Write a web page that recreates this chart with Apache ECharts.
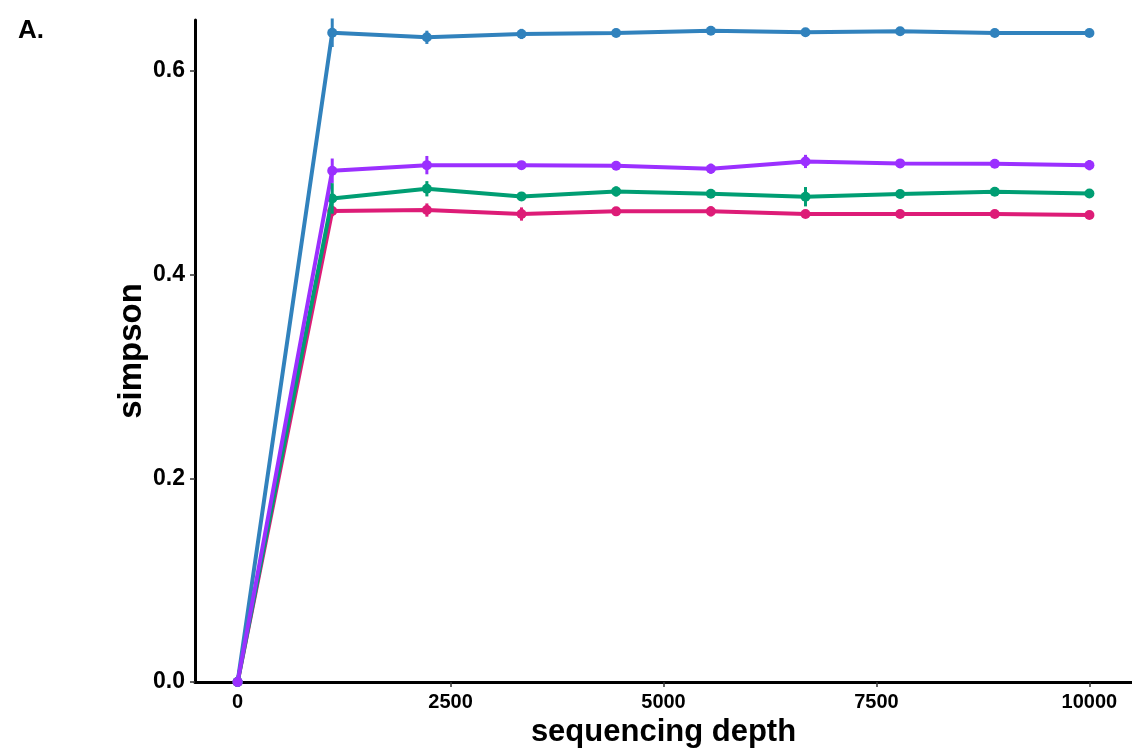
<!DOCTYPE html>
<html>
<head>
<meta charset="utf-8">
<script src="https://cdn.jsdelivr.net/npm/echarts@6/dist/echarts.min.js"></script>
<style>
html,body{margin:0;padding:0;background:#fff;}
#chart{width:1132px;height:753px;}
</style>
</head>
<body>
<div id="chart"></div>
<script>
// ---- data ----
const depth = [0, 1111, 2222, 3333, 4444, 5556, 6667, 7778, 8889, 10000];
const xTicks = [0, 2500, 5000, 7500, 10000];
const yTicks = [0, 0.2, 0.4, 0.6];
const blueVals   = [0, 0.6375, 0.6330, 0.6363, 0.6373, 0.6395, 0.6379, 0.6389, 0.6373, 0.6373];
const purpleVals = [0, 0.5020, 0.5075, 0.5075, 0.5069, 0.5040, 0.5111, 0.5092, 0.5088, 0.5075];
const greenVals  = [0, 0.4748, 0.4843, 0.4768, 0.4817, 0.4794, 0.4765, 0.4791, 0.4814, 0.4797];
const pinkVals   = [0, 0.4624, 0.4634, 0.4595, 0.4621, 0.4621, 0.4595, 0.4595, 0.4595, 0.4585];
const blueErr   = [0, 0.014, 0.0065, 0.005, 0.004, 0.004, 0.004, 0.004, 0.004, 0];
const purpleErr = [0, 0.012, 0.009, 0.003, 0.004, 0.005, 0.0065, 0.004, 0.004, 0.005];
const greenErr  = [0, 0.015, 0.0075, 0.003, 0.005, 0.003, 0.0095, 0.004, 0.004, 0];
const pinkErr   = [0, 0.005, 0.0065, 0.0065, 0.004, 0.005, 0.003, 0.002, 0.003, 0];

const colors = {blue:'#3182BD', purple:'#9B30FF', green:'#009E73', pink:'#DD1C77'};
// drawing order (last on top)
const groups = [
  {name:'pink', vals:pinkVals, err:pinkErr},
  {name:'green', vals:greenVals, err:greenErr},
  {name:'blue', vals:blueVals, err:blueErr},
  {name:'purple', vals:purpleVals, err:purpleErr}
];

const FONT = '"Liberation Sans", Arial, sans-serif';
const series = [];
groups.forEach((g, gi) => {
  series.push({
    name: g.name,
    type: 'line',
    data: depth.map((d, i) => [d, g.vals[i]]),
    symbol: 'circle',
    symbolSize: 10,
    showSymbol: true,
    lineStyle: {width: 4, color: colors[g.name]},
    itemStyle: {color: colors[g.name]},
    z: 2 + gi
  });
});
groups.forEach((g, gi) => {
  const c = colors[g.name];
  series.push({
    name: g.name + '_err',
    type: 'custom',
    data: depth.map((d, i) => [d, g.vals[i] - g.err[i], g.vals[i] + g.err[i]]),
    encode: {x: 0, y: [1, 2]},
    renderItem: function (params, api) {
      const p1 = api.coord([api.value(0), api.value(1)]);
      const p2 = api.coord([api.value(0), api.value(2)]);
      return {type: 'line', shape: {x1: p1[0], y1: p1[1], x2: p2[0], y2: p2[1]},
              style: {stroke: c, lineWidth: 3}};
    },
    z: 10 + gi
  });
});

const chart = echarts.init(document.getElementById('chart'), null, {renderer: 'canvas'});
chart.setOption({
  animation: false,
  backgroundColor: '#fff',
  title: {
    text: 'A.', left: 13, top: 13,
    textStyle: {fontFamily: FONT, fontWeight: 'bold', fontSize: 26, color: '#000'}
  },
  grid: {left: 195, right: 0, top: 20, bottom: 70, containLabel: false},
  xAxis: {
    type: 'value', min: -500, max: 10500,
    name: 'sequencing depth', nameLocation: 'middle', nameGap: 35, nameMoveOverlap: false,
    nameTextStyle: {fontFamily: FONT, fontWeight: 'bold', fontSize: 31, color: '#000'},
    axisLine: {show: true, onZero: false, lineStyle: {color: '#000', width: 3}},
    axisTick: {show: true, length: 5, lineStyle: {color: '#333', width: 1.5}, customValues: xTicks},
    axisLabel: {fontFamily: FONT, fontWeight: 'bold', fontSize: 20, color: '#000', margin: 10,
      customValues: xTicks, formatter: v => String(v)},
    splitLine: {show: false}
  },
  yAxis: {
    type: 'value', min: 0, max: 0.65,
    name: 'simpson', nameLocation: 'middle', nameGap: 47, nameRotate: 90, nameMoveOverlap: false,
    nameTextStyle: {fontFamily: FONT, fontWeight: 'bold', fontSize: 33, color: '#000'},
    axisLine: {show: true, onZero: false, lineStyle: {color: '#000', width: 3}},
    axisTick: {show: true, length: 5, lineStyle: {color: '#333', width: 1.5}, customValues: yTicks},
    axisLabel: {fontFamily: FONT, fontWeight: 'bold', fontSize: 23, color: '#000', margin: 10,
      customValues: yTicks, formatter: v => v.toFixed(1)},
    splitLine: {show: false}
  },
  series: series
});
</script>
</body>
</html>
